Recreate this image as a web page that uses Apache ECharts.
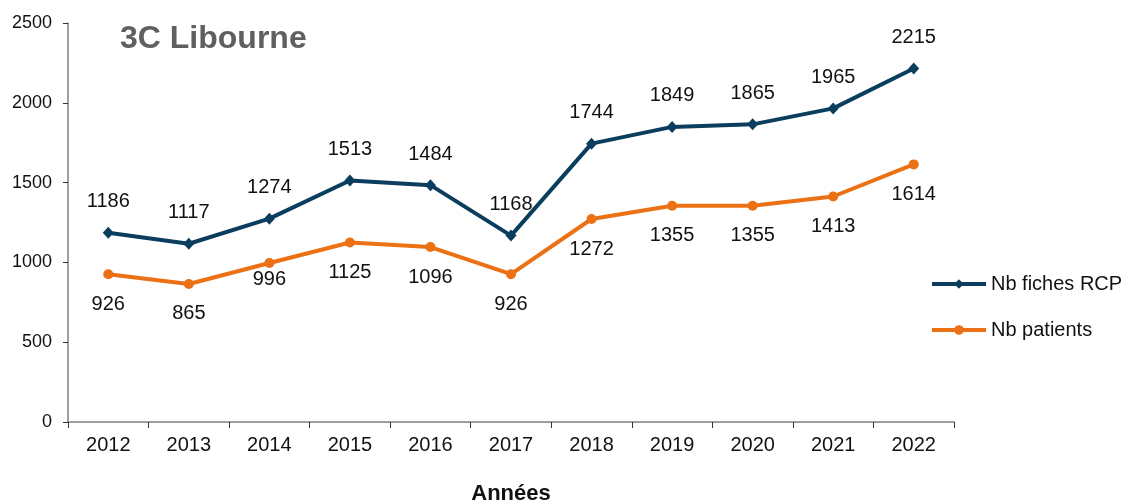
<!DOCTYPE html>
<html><head><meta charset="utf-8">
<script src="https://cdn.jsdelivr.net/npm/echarts@6/dist/echarts.min.js"></script>
<style>html,body{margin:0;padding:0;background:#fff;overflow:hidden}#c{width:1131px;height:504px}</style>
</head><body><div id="c"></div>
<script>
var years = ['2012','2013','2014','2015','2016','2017','2018','2019','2020','2021','2022'];
var fichesRCP = [1186,1117,1274,1513,1484,1168,1744,1849,1865,1965,2215];
var patients = [926,865,996,1125,1096,926,1272,1355,1355,1413,1614];
var seriesNames = ['Nb fiches RCP','Nb patients'];

var chart = echarts.init(document.getElementById('c'));
var font = 'Liberation Sans, Arial, sans-serif';
var patientData = patients.map(function(v,i){
  return i === 2 ? {value:v, label:{distance:1}} : v;
});
chart.setOption({
  animation:false,
  textStyle:{fontFamily:font},
  title:{text:'3C Libourne', left:115, top:18, textStyle:{fontSize:32, fontWeight:'bold', color:'#5f5f5f', fontFamily:font}},
  grid:{left:68, right:177, top:23, bottom:82, containLabel:false, outerBoundsMode:'none'},
  legend:{orient:'vertical', left:925, top:269, itemGap:26, itemWidth:54, itemHeight:12,
    lineStyle:{width:4},
    textStyle:{fontSize:20, color:'#111', fontFamily:font},
    data:seriesNames},
  xAxis:{type:'category', data:years, boundaryGap:true,
    name:'Années', nameLocation:'middle', nameGap:61,
    nameTextStyle:{fontSize:22, fontWeight:'bold', color:'#111', fontFamily:font},
    axisLine:{lineStyle:{color:'#808080', width:1.5}},
    axisTick:{show:true, length:6, lineStyle:{color:'#333'}},
    axisLabel:{fontSize:20, color:'#111', margin:13, fontFamily:font}},
  yAxis:{type:'value', min:0, max:2500, interval:500,
    axisLine:{show:true, lineStyle:{color:'#808080', width:1.5}},
    axisTick:{show:true, length:5, lineStyle:{color:'#333'}},
    splitLine:{show:false},
    axisLabel:{fontSize:18, color:'#111', margin:16, fontFamily:font, formatter:function(v){return String(v);}}},
  series:[
    {name:seriesNames[0], type:'line', data:fichesRCP, symbol:'diamond', symbolSize:[11,12],
      lineStyle:{color:'#0a3d5e', width:4}, itemStyle:{color:'#0a3d5e'},
      label:{show:true, position:'top', distance:15, fontSize:20, color:'#111', fontFamily:font}},
    {name:seriesNames[1], type:'line', data:patientData, symbol:'circle', symbolSize:10,
      lineStyle:{color:'#ec7014', width:4}, itemStyle:{color:'#ec7014'},
      label:{show:true, position:'bottom', distance:15, fontSize:20, color:'#111', fontFamily:font}}
  ]
});
</script></body></html>
